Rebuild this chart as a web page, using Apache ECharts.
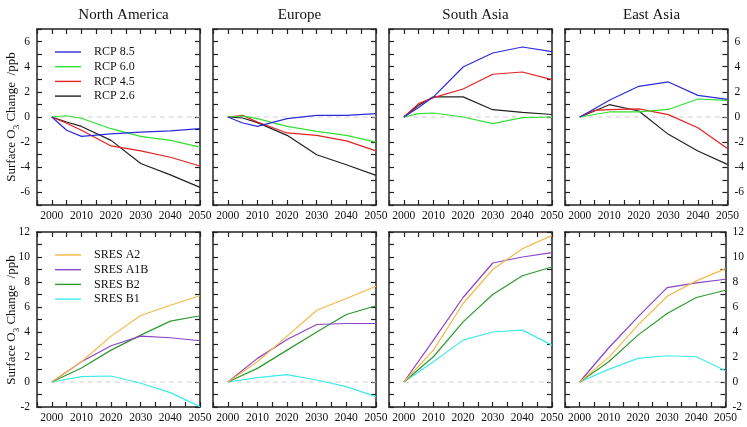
<!DOCTYPE html>
<html>
<head>
<meta charset="utf-8">
<script src="https://cdn.jsdelivr.net/npm/echarts@6/dist/echarts.min.js"></script>
<style>
  html, body { margin: 0; padding: 0; background: #fff; }
  #chart { width: 747px; height: 427px; }
</style>
</head>
<body>
<div id="chart"></div>
<script>
const years = [2000, 2005, 2010, 2020, 2030, 2040, 2050];
const sresYears = [2000, 2010, 2020, 2030, 2040, 2050];
const regions = ['North America', 'Europe', 'South Asia', 'East Asia'];
const rcpNames = ['RCP 8.5', 'RCP 6.0', 'RCP 4.5', 'RCP 2.6'];
const sresNames = ['SRES A2', 'SRES A1B', 'SRES B2', 'SRES B1'];

// order: 8.5, 6.0, 4.5, 2.6
const rcpNorthAmerica = [
  [0, -1.05, -1.54, -1.35, -1.2, -1.1, -0.93],
  [0, 0.1, -0.1, -0.93, -1.54, -1.86, -2.4],
  [0, -0.5, -1.06, -2.3, -2.7, -3.2, -3.9],
  [0, -0.4, -0.75, -1.86, -3.7, -4.6, -5.6]
];
const rcpEurope = [
  [0, -0.48, -0.74, -0.13, 0.13, 0.13, 0.27],
  [0, 0.08, -0.13, -0.74, -1.14, -1.46, -2.0],
  [0, 0.13, -0.4, -1.27, -1.46, -1.9, -2.7],
  [0, -0.08, -0.45, -1.46, -3.0, -3.8, -4.64]
];
const rcpSouthAsia = [
  [0, 0.75, 1.6, 3.98, 5.09, 5.57, 5.2],
  [0, 0.27, 0.32, 0, -0.53, -0.05, 0],
  [0, 1.06, 1.54, 2.23, 3.4, 3.58, 2.97],
  [0, 0.93, 1.6, 1.6, 0.58, 0.37, 0.2]
];
const rcpEastAsia = [
  [0, 0.65, 1.33, 2.44, 2.79, 1.72, 1.4],
  [0, 0.2, 0.4, 0.4, 0.6, 1.43, 1.33],
  [0, 0.53, 0.58, 0.64, 0.19, -0.85, -2.5],
  [0, 0.48, 0.98, 0.48, -1.38, -2.7, -3.77]
];

// order: A2, A1B, B2, B1
const sresNorthAmerica = [
  [0, 1.62, 3.67, 5.32, 6.14, 6.9],
  [0, 1.62, 2.9, 3.67, 3.54, 3.3],
  [0, 1.12, 2.55, 3.75, 4.87, 5.3],
  [0, 0.43, 0.48, -0.1, -0.85, -1.97]
];
const sresEurope = [
  [0, 1.62, 3.67, 5.74, 6.68, 7.66],
  [0, 1.89, 3.4, 4.6, 4.68, 4.68],
  [0, 1.09, 2.55, 4.0, 5.4, 6.1],
  [0, 0.35, 0.59, 0.16, -0.37, -1.17]
];
const sresSouthAsia = [
  [0, 2.55, 6.28, 9.0, 10.66, 11.73],
  [0, 3.35, 6.76, 9.52, 10.0, 10.35],
  [0, 2.02, 4.81, 7.0, 8.5, 9.2],
  [0, 1.62, 3.35, 4.0, 4.15, 2.95]
];
const sresEastAsia = [
  [0, 1.97, 4.55, 6.86, 8.09, 9.07],
  [0, 2.74, 5.21, 7.55, 7.93, 8.22],
  [0, 1.62, 3.75, 5.48, 6.76, 7.34],
  [0, 1.01, 1.89, 2.1, 2.02, 0.9]
];

const rcpColors = ['#2b2bdb', '#33e033', '#e52222', '#222222'];
const sresColors = ['#f5b847', '#8b45c6', '#2f9a2f', '#40eaea'];

const rcpData = [rcpNorthAmerica, rcpEurope, rcpSouthAsia, rcpEastAsia];
const sresData = [sresNorthAmerica, sresEurope, sresSouthAsia, sresEastAsia];

const FONT = "'Liberation Serif', 'DejaVu Serif', serif";
const lefts = [37, 213, 389, 565];
const W = 163;

let grid = [], xAxis = [], yAxis = [], series = [], title = [];

function addPanel(idx, col, row) {
  let top = row == 0 ? 29 : 232;
  let h = row == 0 ? 176 : 175;
  grid.push({left: lefts[col], top: top, width: W, height: h});
  let axLine = {show: true, onZero: false, lineStyle: {color: '#222', width: 1.5}};
  let tick = {show: true, inside: true, length: 5, lineStyle: {color: '#222', width: 1.2}};
  xAxis.push({
    type: 'value', gridIndex: idx, position: 'bottom', min: 1995, max: 2050, interval: 5,
    axisLine: axLine, axisTick: tick, splitLine: {show: false},
    axisLabel: {
      interval: 0, margin: 5, color: '#111', fontFamily: FONT, fontSize: 11.5,
      formatter: v => (v % 10 === 0 && v >= 2000) ? String(v) : ''
    }
  });
  xAxis.push({
    type: 'value', gridIndex: idx, position: 'top', min: 1995, max: 2050, interval: 5,
    axisLine: axLine, axisTick: tick, splitLine: {show: false}, axisLabel: {show: false}
  });
  let ymin = row == 0 ? -7 : -2;
  let ymax = row == 0 ? 7 : 12;
  let lab = {
    margin: 7, color: '#111', fontFamily: FONT, fontSize: 11.5,
    formatter: v => (v % 2 === 0) ? String(v) : ''
  };
  yAxis.push({
    type: 'value', gridIndex: idx, position: 'left', min: ymin, max: ymax, interval: 1,
    axisLine: axLine, axisTick: tick, splitLine: {show: false},
    axisLabel: Object.assign({show: col == 0}, lab)
  });
  yAxis.push({
    type: 'value', gridIndex: idx, position: 'right', min: ymin, max: ymax, interval: 1,
    axisLine: axLine, axisTick: tick, splitLine: {show: false},
    axisLabel: Object.assign({show: col == 3}, lab)
  });

  let names = row == 0 ? rcpNames : sresNames;
  let colors = row == 0 ? rcpColors : sresColors;
  let xs = row == 0 ? years : sresYears;
  let vals = row == 0 ? rcpData[col] : sresData[col];
  // dashed zero line
  series.push({
    type: 'line', xAxisIndex: idx * 2, yAxisIndex: idx * 2, silent: true,
    data: [[2000, 0], [2050, 0]], showSymbol: false,
    lineStyle: {color: '#cfcfcf', width: 1, type: [5, 4]}, z: 1
  });
  for (let s = 0; s < 4; s++) {
    series.push({
      name: names[s], type: 'line', xAxisIndex: idx * 2, yAxisIndex: idx * 2,
      data: xs.map((x, i) => [x, vals[s][i]]),
      showSymbol: false, color: colors[s],
      lineStyle: {width: 1.2, color: colors[s]}, z: 5 - s
    });
  }
}

for (let c = 0; c < 4; c++) addPanel(c, c, 0);
for (let c = 0; c < 4; c++) addPanel(4 + c, c, 1);

for (let c = 0; c < 4; c++) {
  title.push({
    text: regions[c], left: lefts[c] + W / 2, top: 3, textAlign: 'center',
    textStyle: {fontFamily: FONT, fontSize: 15, fontWeight: 'normal', color: '#111'}
  });
}

function legendFor(names, top) {
  return {
    data: names, orient: 'vertical', left: 50, top: top,
    icon: 'rect', itemWidth: 26, itemHeight: 1.4, itemGap: 2.7,
    textStyle: {fontFamily: FONT, fontSize: 12, color: '#111', lineHeight: 12, padding: [0, 0, 0, 8]},
    selectedMode: false
  };
}

function yName(y) {
  return {
    type: 'text', x: 12, y: y, rotation: Math.PI / 2,
    style: {
      text: '{a|Surface O}{s|3}{a| Change  /ppb}',
      align: 'center', verticalAlign: 'middle',
      rich: {
        a: {fontFamily: FONT, fontSize: 13, lineHeight: 18, verticalAlign: 'middle', fill: '#111'},
        s: {fontFamily: FONT, fontSize: 9, lineHeight: 9, verticalAlign: 'bottom', fill: '#111'}
      }
    }
  };
}

let myChart = echarts.init(document.getElementById('chart'), null, {renderer: 'canvas'});
myChart.setOption({
  animation: false,
  backgroundColor: '#fff',
  title: title,
  legend: [legendFor(rcpNames, 41), legendFor(sresNames, 244)],
  grid: grid,
  xAxis: xAxis,
  yAxis: yAxis,
  series: series,
  graphic: [yName(117), yName(320)]
});
</script>
</body>
</html>
